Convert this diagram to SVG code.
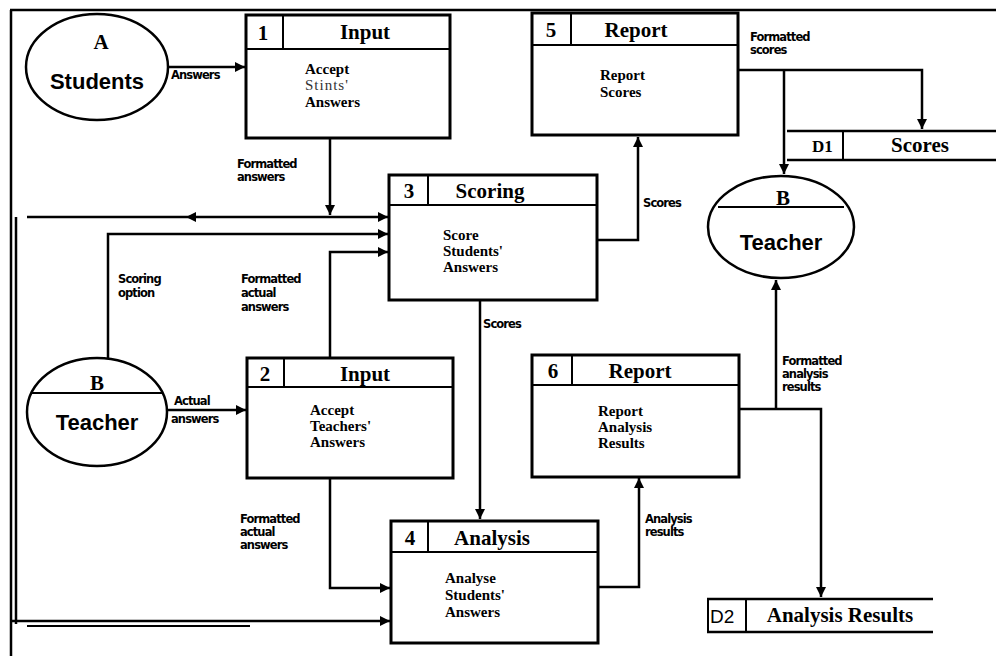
<svg xmlns="http://www.w3.org/2000/svg" width="996" height="656" viewBox="0 0 996 656">
  <style>
    .box { fill: #fff; stroke: #000; stroke-width: 3; }
    .ln { fill: none; stroke: #000; stroke-width: 2.5; }
    .thin { fill: none; stroke: #000; stroke-width: 2; }
    .ent { fill: #fff; stroke: #000; stroke-width: 2.5; }
    .num { font-family: "Liberation Serif", serif; font-weight: bold; font-size: 21px; text-anchor: middle; }
    .hd { font-family: "Liberation Serif", serif; font-weight: bold; font-size: 21px; text-anchor: middle; }
    .body { font-family: "Liberation Serif", serif; font-weight: bold; font-size: 15px; }
    .lbl { font-family: "DejaVu Sans", sans-serif; font-weight: bold; font-size: 11.5px; letter-spacing: -0.9px; }
    .big { font-family: "Liberation Sans", sans-serif; font-weight: bold; font-size: 22px; text-anchor: middle; }
  </style>
  <defs>
    <marker id="ah" markerUnits="userSpaceOnUse" markerWidth="12" markerHeight="12" refX="10" refY="5" orient="auto">
      <path d="M0,0 L10,5 L0,10 Z" fill="#000"/>
    </marker>
  </defs>
  <rect width="996" height="656" fill="#fff"/>

  <!-- outer frame -->
  <g id="frame">
    <line class="ln" x1="10" y1="10" x2="996" y2="10"/>
    <line class="ln" x1="11" y1="10" x2="11" y2="656"/>
    <line class="ln" x1="16" y1="217" x2="16" y2="624"/>
  </g>

  <!-- connectors -->
  <g id="connectors">
    <!-- Answers -->
    <line class="ln" x1="168" y1="67" x2="245" y2="67" marker-end="url(#ah)"/>
    <!-- Formatted answers -->
    <line class="ln" x1="330" y1="138" x2="330" y2="215" marker-end="url(#ah)"/>
    <!-- upper bus into Scoring -->
    <line class="ln" x1="27" y1="217" x2="388" y2="217" marker-end="url(#ah)"/>
    <path d="M186,217 L196,212 L196,222 Z" fill="#000"/>
    <!-- Scoring option -->
    <polyline class="ln" points="108,358 108,234 388,234" marker-end="url(#ah)"/>
    <line class="thin" x1="389" y1="234" x2="403" y2="234"/>
    <!-- Formatted actual answers to Scoring -->
    <polyline class="ln" points="330,358 330,252 388,252" marker-end="url(#ah)"/>
    <!-- Scores to Report 5 -->
    <polyline class="ln" points="597,240 638,240 638,137" marker-end="url(#ah)"/>
    <!-- Formatted scores -->
    <polyline class="ln" points="738,70 922,70 922,129" marker-end="url(#ah)"/>
    <line class="ln" x1="784" y1="70" x2="784" y2="174" marker-end="url(#ah)"/>
    <!-- Scores to Analysis -->
    <line class="ln" x1="480" y1="300" x2="480" y2="519" marker-end="url(#ah)"/>
    <!-- Actual answers -->
    <line class="ln" x1="167" y1="410" x2="246" y2="410" marker-end="url(#ah)"/>
    <!-- Formatted actual answers to Analysis -->
    <polyline class="ln" points="330,478 330,588 390,588" marker-end="url(#ah)"/>
    <!-- lower bus into Analysis -->
    <line class="ln" x1="11" y1="621" x2="390" y2="621" marker-end="url(#ah)"/>
    <line class="thin" x1="27" y1="626" x2="250" y2="626"/>
    <!-- Analysis results -->
    <polyline class="ln" points="598,587 639,587 639,478" marker-end="url(#ah)"/>
    <!-- Formatted analysis results -->
    <polyline class="ln" points="740,409 821,409 821,597" marker-end="url(#ah)"/>
    <line class="ln" x1="776" y1="409" x2="776" y2="280" marker-end="url(#ah)"/>
  </g>

  <!-- connector labels -->
  <g id="labels">
    <text class="lbl" x="171" y="79">Answers</text>
    <text class="lbl" x="237" y="168">Formatted</text>
    <text class="lbl" x="237" y="181">answers</text>
    <text class="lbl" x="118" y="283">Scoring</text>
    <text class="lbl" x="118" y="297">option</text>
    <text class="lbl" x="241" y="283">Formatted</text>
    <text class="lbl" x="241" y="297">actual</text>
    <text class="lbl" x="241" y="311">answers</text>
    <text class="lbl" x="643" y="207">Scores</text>
    <text class="lbl" x="483" y="328">Scores</text>
    <text class="lbl" x="750" y="41">Formatted</text>
    <text class="lbl" x="750" y="54">scores</text>
    <text class="lbl" x="174" y="405">Actual</text>
    <text class="lbl" x="171" y="423">answers</text>
    <text class="lbl" x="240" y="523">Formatted</text>
    <text class="lbl" x="240" y="536">actual</text>
    <text class="lbl" x="240" y="549">answers</text>
    <text class="lbl" x="645" y="523">Analysis</text>
    <text class="lbl" x="645" y="536">results</text>
    <text class="lbl" x="782" y="365">Formatted</text>
    <text class="lbl" x="782" y="378">analysis</text>
    <text class="lbl" x="782" y="391">results</text>
  </g>

  <!-- external entity A: Students -->
  <g id="students">
    <ellipse class="ent" cx="97" cy="67" rx="71" ry="53"/>
    <text class="num" x="101" y="49" font-size="22">A</text>
    <text class="big" x="97" y="89">Students</text>
  </g>

  <!-- process 1 -->
  <g id="p1">
    <rect class="box" x="246" y="15" width="204" height="123"/>
    <line class="thin" x1="246" y1="49" x2="450" y2="49"/>
    <line class="thin" x1="283" y1="15" x2="283" y2="49"/>
    <text class="num" x="263" y="40">1</text>
    <text class="hd" x="365" y="39">Input</text>
    <text class="body" x="305" y="74">Accept</text>
    <text x="305" y="90" font-family="Liberation Serif, serif" font-size="15" fill="#333" letter-spacing="1">Stints'</text>
    <text class="body" x="305" y="107">Answers</text>
  </g>

  <!-- process 5 -->
  <g id="p5">
    <rect class="box" x="532" y="13" width="206" height="122"/>
    <line class="thin" x1="532" y1="45" x2="738" y2="45"/>
    <line class="thin" x1="571" y1="13" x2="571" y2="45"/>
    <text class="num" x="551" y="37">5</text>
    <text class="hd" x="636" y="37">Report</text>
    <text class="body" x="600" y="80">Report</text>
    <text class="body" x="600" y="97">Scores</text>
  </g>

  <!-- data store D1 -->
  <g id="d1">
    <line class="ln" x1="787" y1="131" x2="996" y2="131"/>
    <line class="ln" x1="787" y1="160" x2="996" y2="160"/>
    <line class="thin" x1="843" y1="131" x2="843" y2="160"/>
    <text x="812" y="152" font-family="Liberation Serif, serif" font-weight="bold" font-size="17">D1</text>
    <text x="920" y="152" class="hd" font-size="18">Scores</text>
  </g>

  <!-- external entity B (right) -->
  <g id="teacher-right">
    <ellipse class="ent" cx="781" cy="227" rx="73" ry="51"/>
    <line class="thin" x1="718" y1="207" x2="844" y2="207"/>
    <text class="num" x="783" y="205">B</text>
    <text class="big" x="781" y="250" font-weight="normal" font-size="23">Teacher</text>
  </g>

  <!-- process 3 -->
  <g id="p3">
    <rect class="box" x="389" y="175" width="208" height="125"/>
    <line class="thin" x1="389" y1="205" x2="597" y2="205"/>
    <line class="thin" x1="428" y1="175" x2="428" y2="205"/>
    <text class="num" x="409" y="198">3</text>
    <text class="hd" x="490" y="198">Scoring</text>
    <text class="body" x="443" y="240">Score</text>
    <text class="body" x="443" y="256">Students'</text>
    <text class="body" x="443" y="272">Answers</text>
  </g>

  <!-- external entity B (left) -->
  <g id="teacher-left">
    <ellipse class="ent" cx="97" cy="412" rx="70" ry="54"/>
    <line class="thin" x1="31" y1="393" x2="163" y2="393"/>
    <text class="num" x="97" y="390">B</text>
    <text class="big" x="97" y="430" font-weight="normal" font-size="23">Teacher</text>
  </g>

  <!-- process 2 -->
  <g id="p2">
    <rect class="box" x="247" y="358" width="206" height="120"/>
    <line class="thin" x1="247" y1="387" x2="453" y2="387"/>
    <line class="thin" x1="284" y1="358" x2="284" y2="387"/>
    <text class="num" x="265" y="381">2</text>
    <text class="hd" x="365" y="381">Input</text>
    <text class="body" x="310" y="415">Accept</text>
    <text class="body" x="310" y="431">Teachers'</text>
    <text class="body" x="310" y="447">Answers</text>
  </g>

  <!-- process 6 -->
  <g id="p6">
    <rect class="box" x="532" y="355" width="207" height="122"/>
    <line class="thin" x1="532" y1="385" x2="739" y2="385"/>
    <line class="thin" x1="572" y1="355" x2="572" y2="385"/>
    <text class="num" x="553" y="378">6</text>
    <text class="hd" x="640" y="378">Report</text>
    <text class="body" x="598" y="416">Report</text>
    <text class="body" x="598" y="432">Analysis</text>
    <text class="body" x="598" y="448">Results</text>
  </g>

  <!-- process 4 -->
  <g id="p4">
    <rect class="box" x="391" y="521" width="207" height="122"/>
    <line class="thin" x1="391" y1="552" x2="598" y2="552"/>
    <line class="thin" x1="428" y1="521" x2="428" y2="552"/>
    <text class="num" x="410" y="545">4</text>
    <text class="hd" x="492" y="545">Analysis</text>
    <text class="body" x="445" y="583">Analyse</text>
    <text class="body" x="445" y="600">Students'</text>
    <text class="body" x="445" y="617">Answers</text>
  </g>

  <!-- data store D2 -->
  <g id="d2">
    <line class="ln" x1="707" y1="599" x2="933" y2="599"/>
    <line class="ln" x1="707" y1="632" x2="933" y2="632"/>
    <line class="thin" x1="708" y1="599" x2="708" y2="632"/>
    <line class="thin" x1="746" y1="599" x2="746" y2="632"/>
    <text x="710" y="623" font-family="Liberation Sans, sans-serif" font-size="19">D2</text>
    <text x="840" y="622" class="hd" font-size="16">Analysis Results</text>
  </g>
</svg>
